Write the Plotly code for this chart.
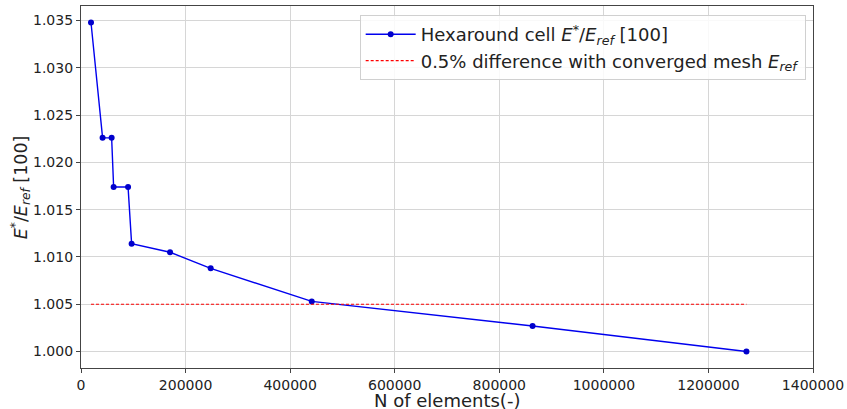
import plotly.graph_objects as go

# mesh convergence data
n_elements = [19100, 41300, 58600, 62400, 90000, 96800, 170300, 248000, 441300, 863700, 1272700]
e_ratio = [1.0348, 1.0226, 1.0226, 1.0174, 1.0174, 1.0114, 1.0105, 1.0088, 1.0053, 1.0027, 1.0000]

# 0.5% band
limit_x = [n_elements[0], n_elements[-1]]
limit_y = [1.005, 1.005]

x_ticks = [0, 200000, 400000, 600000, 800000, 1000000, 1200000, 1400000]
y_ticks = [1.000, 1.005, 1.010, 1.015, 1.020, 1.025, 1.030, 1.035]

font = "DejaVu Sans, Verdana, sans-serif"

fig = go.Figure()
fig.add_trace(go.Scatter(
    x=n_elements, y=e_ratio, mode="lines+markers",
    name="Hexaround cell <i>E</i><sup>*</sup>/<i>E</i><sub><i>ref</i></sub> [100]",
    line=dict(color="#0000ee", width=1.4),
    marker=dict(color="#0000cc", size=6),
))
fig.add_trace(go.Scatter(
    x=limit_x, y=limit_y, mode="lines",
    name="0.5% difference with converged mesh <i>E</i><sub><i>ref</i></sub>",
    line=dict(color="red", width=1.1, dash="3px,2px"),
))

axis_style = dict(
    showgrid=True, gridcolor="#d6d6d6", gridwidth=1,
    showline=True, linecolor="#444", linewidth=1.2, mirror=True,
    ticks="outside", ticklen=4, tickcolor="#444",
    tickfont=dict(size=14, color="#222"), zeroline=False,
    automargin=False,
)

fig.update_xaxes(range=[0, 1400000], tickvals=x_ticks, tickformat="d", **axis_style)
fig.update_yaxes(range=[0.99826, 1.03654], tickvals=y_ticks, tickformat=".3f", **axis_style)

# axis titles as annotations so the plot area stays put
fig.add_annotation(
    text="N of elements(-)", xref="paper", yref="paper", x=0.5, y=-0.056,
    xanchor="center", yanchor="top", showarrow=False,
    font=dict(size=18, color="#222"),
)
fig.add_annotation(
    text="<i>E</i><sup>*</sup>/<i>E</i><sub><i>ref</i></sub> [100]",
    xref="paper", yref="paper", x=-0.083, y=0.5, textangle=-90,
    xanchor="center", yanchor="middle", showarrow=False,
    font=dict(size=17.5, color="#222"),
)

fig.update_layout(
    width=847, height=409,
    margin=dict(l=81, r=34, t=6, b=41),
    plot_bgcolor="white", paper_bgcolor="white",
    font=dict(family=font, color="#222"),
    legend=dict(
        x=0.99, y=0.975, xanchor="right", yanchor="top",
        bgcolor="rgba(255,255,255,0.85)", bordercolor="#d0d0d0", borderwidth=1,
        font=dict(size=18, color="#222"), tracegroupgap=0, itemwidth=50,
    ),
    showlegend=True,
)

# page body has a default 8px margin; drop it so the figure fills the window
fig.write_html("out.html", config={"displayModeBar": False},
               post_script="document.body.style.margin='0';")
